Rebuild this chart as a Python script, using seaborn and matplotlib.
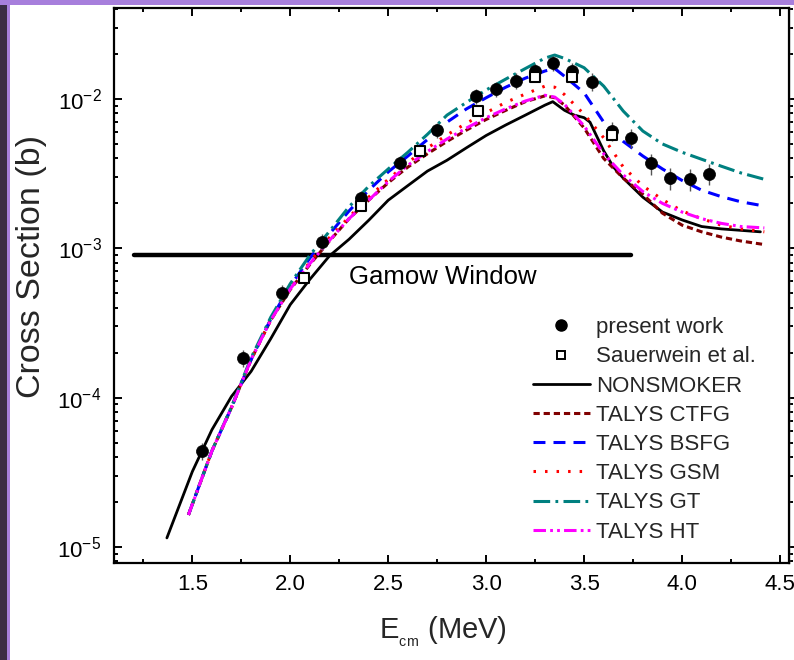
import numpy as np
import pandas as pd
import matplotlib
matplotlib.use("Agg")
import matplotlib.pyplot as plt
from matplotlib.lines import Line2D
from matplotlib.patches import Rectangle
from matplotlib.ticker import LogLocator, LogFormatterMathtext, MultipleLocator, NullFormatter
import seaborn as sns

# ---------------- data ----------------
pw_E = [1.55, 1.76, 1.96, 2.16, 2.36, 2.56, 2.75, 2.95, 3.05, 3.15,
        3.25, 3.34, 3.44, 3.54, 3.64, 3.74, 3.84, 3.94, 4.04, 4.14]
pw_sigma = [4.4e-5, 1.85e-4, 5.05e-4, 1.11e-3, 2.16e-3, 3.74e-3, 6.2e-3, 1.05e-2, 1.17e-2, 1.33e-2,
            1.54e-2, 1.75e-2, 1.55e-2, 1.31e-2, 6.1e-3, 5.5e-3, 3.7e-3, 2.97e-3, 2.91e-3, 3.15e-3]
pw_err = [0.6e-5, 0.25e-4, 0.6e-4, 1.3e-4, 2.5e-4, 4e-4, 7e-4, 1.2e-3, 1.4e-3, 1.6e-3,
          1.8e-3, 2.0e-3, 2.0e-3, 1.8e-3, 0.9e-3, 0.8e-3, 0.6e-3, 0.5e-3, 0.5e-3, 0.5e-3]

sw_E = [2.07, 2.36, 2.66, 2.96, 3.25, 3.44, 3.64]
sw_sigma = [6.3e-4, 1.93e-3, 4.5e-3, 8.3e-3, 1.41e-2, 1.40e-2, 5.7e-3]

ns_E = [1.37, 1.5, 1.6, 1.7, 1.8, 1.9, 2.0, 2.1, 2.2, 2.3, 2.4, 2.5, 2.6, 2.7, 2.8, 2.9,
        3.0, 3.1, 3.2, 3.3, 3.34, 3.4, 3.45, 3.5, 3.53, 3.6, 3.65, 3.7, 3.8, 3.9,
        4.0, 4.1, 4.2, 4.4]
ns_sigma = [1.15e-5, 3.2e-5, 6.1e-5, 1.02e-4, 1.5e-4, 2.48e-4, 4.2e-4, 6.2e-4, 8.9e-4, 1.15e-3,
            1.54e-3, 2.1e-3, 2.63e-3, 3.29e-3, 3.89e-3, 4.72e-3, 5.7e-3, 6.7e-3, 7.8e-3, 9.1e-3,
            9.6e-3, 8.4e-3, 7.8e-3, 7.5e-3, 7.0e-3, 4.5e-3, 3.5e-3, 2.95e-3, 2.2e-3, 1.75e-3,
            1.55e-3, 1.4e-3, 1.35e-3, 1.29e-3]

talys_E = [1.48, 1.6, 1.7, 1.8, 1.9, 2.0, 2.1, 2.2, 2.3, 2.4, 2.5, 2.6, 2.7, 2.8, 2.9, 3.0,
           3.1, 3.2, 3.3, 3.35, 3.4, 3.5, 3.6, 3.7, 3.8, 3.9, 4.0, 4.1, 4.2, 4.3, 4.42]
ctfg_sigma = [1.64e-5, 4.4e-5, 8.6e-5, 1.8e-4, 3.3e-4, 5.3e-4, 7.8e-4, 1.12e-3, 1.58e-3, 2.1e-3,
              2.75e-3, 3.5e-3, 4.3e-3, 5.2e-3, 6.2e-3, 7.3e-3, 8.4e-3, 9.6e-3, 1.05e-2, 1.02e-2,
              9.1e-3, 6.4e-3, 4.0e-3, 2.95e-3, 2.3e-3, 1.72e-3, 1.43e-3, 1.29e-3, 1.19e-3, 1.12e-3,
              1.06e-3]
bsfg_sigma = [1.64e-5, 4.4e-5, 8.6e-5, 1.8e-4, 3.35e-4, 5.6e-4, 8.6e-4, 1.25e-3, 1.78e-3, 2.45e-3,
              3.25e-3, 4.15e-3, 5.35e-3, 7.0e-3, 8.6e-3, 1.02e-2, 1.2e-2, 1.38e-2, 1.54e-2, 1.6e-2,
              1.42e-2, 1.1e-2, 7.0e-3, 5.2e-3, 4.15e-3, 3.4e-3, 2.85e-3, 2.45e-3, 2.22e-3, 2.05e-3,
              1.92e-3]
gsm_sigma = [1.64e-5, 4.4e-5, 8.6e-5, 1.8e-4, 3.3e-4, 5.4e-4, 8.1e-4, 1.18e-3, 1.62e-3, 2.2e-3,
             2.9e-3, 3.75e-3, 4.7e-3, 5.75e-3, 6.9e-3, 8.1e-3, 9.5e-3, 1.08e-2, 1.22e-2, 1.2e-2,
             1.07e-2, 7.9e-3, 5.5e-3, 3.5e-3, 2.62e-3, 2.12e-3, 1.78e-3, 1.58e-3, 1.43e-3, 1.35e-3,
             1.29e-3]
gt_sigma = [1.64e-5, 4.4e-5, 8.7e-5, 1.85e-4, 3.45e-4, 5.8e-4, 9.0e-4, 1.3e-3, 1.9e-3, 2.6e-3,
            3.4e-3, 4.4e-3, 5.8e-3, 7.8e-3, 9.5e-3, 1.15e-2, 1.36e-2, 1.6e-2, 1.88e-2, 1.97e-2,
            1.87e-2, 1.62e-2, 1.22e-2, 8.3e-3, 6.1e-3, 5.0e-3, 4.4e-3, 3.95e-3, 3.55e-3, 3.2e-3,
            2.9e-3]
ht_sigma = [1.64e-5, 4.4e-5, 8.6e-5, 1.8e-4, 3.3e-4, 5.35e-4, 7.9e-4, 1.13e-3, 1.58e-3, 2.1e-3,
            2.8e-3, 3.6e-3, 4.45e-3, 5.4e-3, 6.4e-3, 7.5e-3, 8.6e-3, 9.7e-3, 1.06e-2, 1.03e-2,
            9.2e-3, 6.6e-3, 4.3e-3, 3.1e-3, 2.4e-3, 2.0e-3, 1.75e-3, 1.58e-3, 1.47e-3, 1.4e-3,
            1.37e-3]

gamow_E = [1.2, 3.74]
gamow_sigma = [9.0e-4, 9.0e-4]

x_ticks = [1.5, 2.0, 2.5, 3.0, 3.5, 4.0, 4.5]

# ---------------- style ----------------
sns.set_theme(style="ticks")
plt.rcParams["font.family"] = ["Liberation Sans", "DejaVu Sans"]
plt.rcParams["mathtext.fontset"] = "custom"
plt.rcParams["mathtext.rm"] = "Liberation Sans"
plt.rcParams["mathtext.it"] = "Liberation Sans:italic"
plt.rcParams["mathtext.bf"] = "Liberation Sans:bold"
plt.rcParams["lines.scale_dashes"] = False

fig = plt.figure(figsize=(7.94, 6.60), dpi=100, facecolor="white")
ax = fig.add_axes([114 / 794, 1 - 563 / 660, 675 / 794, 555 / 660])

# slide decoration
fig.patches.append(Rectangle((0, 0), 7 / 794, 1, transform=fig.transFigure,
                             facecolor="#3b2d45", edgecolor="none", zorder=0))
fig.patches.append(Rectangle((7 / 794, 0), 3 / 794, 1, transform=fig.transFigure,
                             facecolor="#a77fdc", edgecolor="none", zorder=0))
fig.patches.append(Rectangle((0, 1 - 5 / 660), 1, 5 / 660, transform=fig.transFigure,
                             facecolor="#a77fdc", edgecolor="none", zorder=0))

series = [
    ("NONSMOKER", ns_E, ns_sigma, "black", "-", 2.0),
    ("TALYS CTFG", talys_E, ctfg_sigma, "#800000", (0, (4.5, 2.8)), 2.2),
    ("TALYS BSFG", talys_E, bsfg_sigma, "#0000ff", (0, (8.6, 5.8)), 2.2),
    ("TALYS GSM", talys_E, gsm_sigma, "#ff0000", (0, (1.8, 6.5)), 2.2),
    ("TALYS GT", talys_E, gt_sigma, "#008080", (0, (12, 3.8, 2.0, 3.8)), 2.2),
    ("TALYS HT", talys_E, ht_sigma, "#ff00ff", (0, (9, 3, 2, 3, 2, 3)), 2.2),
]

# Gamow window
sns.lineplot(x=gamow_E, y=gamow_sigma, ax=ax, color="black", lw=3.2, legend=False,
             solid_capstyle="round")
ax.text(2.78, 6.4e-4, "Gamow Window", ha="center", va="center", fontsize=18.5, color="black")

handles = []
for name, xs, ys, col, ls, lw in series:
    sns.lineplot(x=xs, y=ys, ax=ax, color=col, linestyle=ls, lw=lw, legend=False)
    handles.append(Line2D([0], [0], color=col, linestyle=ls, lw=lw, label=name))

# data points
ax.errorbar(pw_E, pw_sigma, yerr=pw_err, fmt="none", ecolor="#555555", elinewidth=1.0, capsize=0, zorder=4)
sns.scatterplot(x=pw_E, y=pw_sigma, ax=ax, color="black", s=75, edgecolor="black", linewidth=0.5,
                zorder=5, legend=False)
sns.scatterplot(x=sw_E, y=sw_sigma, ax=ax, marker="s", s=45, facecolor="white", edgecolor="black",
                linewidth=1.5, zorder=6, legend=False)

h_pw = Line2D([0], [0], marker="o", color="black", ls="none", markersize=8, label="present work")
h_sw = Line2D([0], [0], marker="s", markerfacecolor="white", markeredgecolor="black", ls="none",
              markersize=6, markeredgewidth=1.4, label="Sauerwein et al.")

ax.legend(handles=[h_pw, h_sw] + handles, loc="upper left", bbox_to_anchor=(0.620, 0.443),
          frameon=False, fontsize=16, handlelength=2.6, handletextpad=0.25, labelspacing=0.37,
          borderpad=0, borderaxespad=0)

# axes
ax.set_yscale("log")
ax.set_xlim(1.10, 4.546)
ax.set_ylim(7.81e-6, 4.07e-2)
ax.set_xticks(x_ticks)
ax.set_xticklabels([f"{v:.1f}" for v in x_ticks])
ax.xaxis.set_minor_locator(MultipleLocator(0.25))
ax.yaxis.set_major_locator(LogLocator(base=10, numticks=10))
ax.yaxis.set_major_formatter(LogFormatterMathtext())
ax.yaxis.set_minor_locator(LogLocator(base=10, subs=np.arange(2, 10), numticks=20))
ax.yaxis.set_minor_formatter(NullFormatter())

for sp in ax.spines.values():
    sp.set_linewidth(1.6)
    sp.set_color("black")
    sp.set_visible(True)

ax.tick_params(axis="both", which="both", direction="in", top=True, right=False, colors="black",
               labelsize=16, width=1.4)
ax.tick_params(axis="y", which="major", labelsize=16)
ax.tick_params(axis="both", which="major", length=6)
ax.tick_params(axis="both", which="minor", length=3)
ax.tick_params(axis="x", which="major", pad=8)
ax.tick_params(axis="y", which="major", pad=9)

ax.set_xlabel(r"E$_{_{\mathregular{cm}}}$ (MeV)", fontsize=21)
ax.xaxis.set_label_coords((443 - 114) / 675, -0.094)
ax.set_ylabel("Cross Section (b)", fontsize=24.5)
ax.yaxis.set_label_coords(-0.099, (563 - 266) / 555)
ax.set_facecolor("white")

# right side ticks pointing outward
sec = ax.secondary_yaxis("right")
sec.tick_params(which="both", direction="out", colors="black", width=1.4, labelright=False)
sec.tick_params(which="major", length=6)
sec.tick_params(which="minor", length=3)
sec.yaxis.set_major_locator(LogLocator(base=10, numticks=10))
sec.yaxis.set_minor_locator(LogLocator(base=10, subs=np.arange(2, 10), numticks=20))
sec.yaxis.set_major_formatter(NullFormatter())
sec.yaxis.set_minor_formatter(NullFormatter())
sec.spines["right"].set_linewidth(1.0)
sec.spines["right"].set_color("#888888")

fig.savefig("out.png", dpi=100, facecolor=fig.get_facecolor())
